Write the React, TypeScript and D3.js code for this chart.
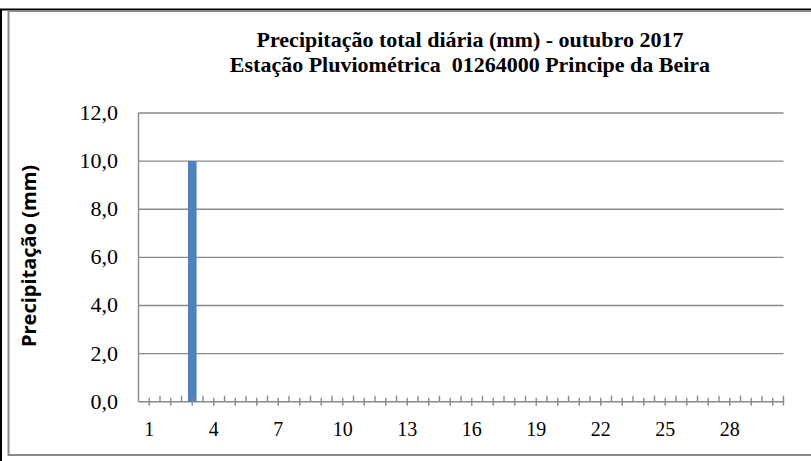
import * as d3 from "d3";

// chart data
const days = [
  1, 2, 3, 4, 5, 6, 7, 8, 9, 10, 11, 12, 13, 14, 15, 16, 17, 18, 19, 20, 21,
  22, 23, 24, 25, 26, 27, 28, 29, 30,
];
const rain = [
  0, 0, 10, 0, 0, 0, 0, 0, 0, 0, 0, 0, 0, 0, 0, 0, 0, 0, 0, 0, 0, 0, 0, 0, 0,
  0, 0, 0, 0, 0,
];
const yTicks = [0, 2, 4, 6, 8, 10, 12];
const xLabels = [1, 4, 7, 10, 13, 16, 19, 22, 25, 28];
const titleLines = [
  "Precipitação total diária (mm) - outubro 2017",
  "Estação Pluviométrica  01264000 Principe da Beira",
];
const yTitle = "Precipitação (mm)";

export default function App() {
  const width = 811;
  const height = 461;
  const plot = { left: 138.5, right: 783.5, top: 113, bottom: 401.7 };
  const grey = "#898989";
  const serif = "'Liberation Serif', 'Times New Roman', serif";

  const x = d3
    .scaleBand<number>()
    .domain(days)
    .range([plot.left, plot.right])
    .padding(0);
  const y = d3.scaleLinear().domain([0, 12]).range([plot.bottom, plot.top]);
  const barW = x.bandwidth() * 0.4;
  const fmt = (v: number) => d3.format(".1f")(v).replace(".", ",");

  return (
    <svg
      width={width}
      height={height}
      style={{ position: "absolute", left: 0, top: 0, background: "#fff" }}
    >
      {/* outer frame */}
      <line x1={0} x2={width} y1={9.5} y2={9.5} stroke="#000" strokeWidth={2} />
      <line x1={1} x2={1} y1={9} y2={height} stroke="#000" strokeWidth={2} />
      {/* chart border */}
      <rect
        x={8.5}
        y={11}
        width={width + 20}
        height={444}
        fill="#fff"
        stroke={grey}
        strokeWidth={2}
      />

      {/* title */}
      <text
        textAnchor="middle"
        fontFamily={serif}
        fontWeight="bold"
        fontSize={22}
        fill="#000"
        style={{ whiteSpace: "pre" }}
      >
        {titleLines.map((t, i) => (
          <tspan key={i} x={470} y={47 + i * 25}>
            {t}
          </tspan>
        ))}
      </text>

      {/* gridlines + y labels */}
      {yTicks.map((t) => (
        <g key={t}>
          <line
            x1={plot.left}
            x2={plot.right}
            y1={y(t)}
            y2={y(t)}
            stroke={grey}
            strokeWidth={1.4}
          />
          <text
            x={118}
            y={y(t) + 7}
            textAnchor="end"
            fontFamily={serif}
            fontSize={22}
            fill="#000"
          >
            {fmt(t)}
          </text>
        </g>
      ))}

      {/* y axis line */}
      <line
        x1={plot.left}
        x2={plot.left}
        y1={plot.top}
        y2={plot.bottom}
        stroke={grey}
        strokeWidth={1.4}
      />

      {/* bars */}
      {days.map((d, i) =>
        rain[i] > 0 ? (
          <rect
            key={d}
            x={(x(d) as number) + x.bandwidth() / 2 - barW / 2}
            y={y(rain[i])}
            width={barW}
            height={y(0) - y(rain[i])}
            fill="#4F81BD"
          />
        ) : null,
      )}

      {/* x axis ticks */}
      {days.map((d) => {
        const c = (x(d) as number) + x.bandwidth() / 2;
        const b = (x(d) as number) + x.bandwidth();
        return (
          <g key={d}>
            <line
              x1={c}
              x2={c}
              y1={plot.bottom - 4}
              y2={plot.bottom + 4}
              stroke={grey}
              strokeWidth={1.4}
            />
            <line
              x1={b}
              x2={b}
              y1={plot.bottom - 6}
              y2={d === days[days.length - 1] ? plot.bottom + 4 : plot.bottom}
              stroke={grey}
              strokeWidth={1.4}
            />
          </g>
        );
      })}

      {/* x labels */}
      {xLabels.map((d) => (
        <text
          key={d}
          x={(x(d) as number) + x.bandwidth() / 2}
          y={436}
          textAnchor="middle"
          fontFamily={serif}
          fontSize={20}
          fill="#000"
        >
          {d}
        </text>
      ))}

      {/* y axis title */}
      <text
        transform={`translate(36, 256) rotate(-90)`}
        textAnchor="middle"
        fontFamily="'Open Sans', 'Liberation Sans', sans-serif"
        fontWeight="bold"
        fontSize={20}
        fill="#000"
      >
        {yTitle}
      </text>
    </svg>
  );
}
